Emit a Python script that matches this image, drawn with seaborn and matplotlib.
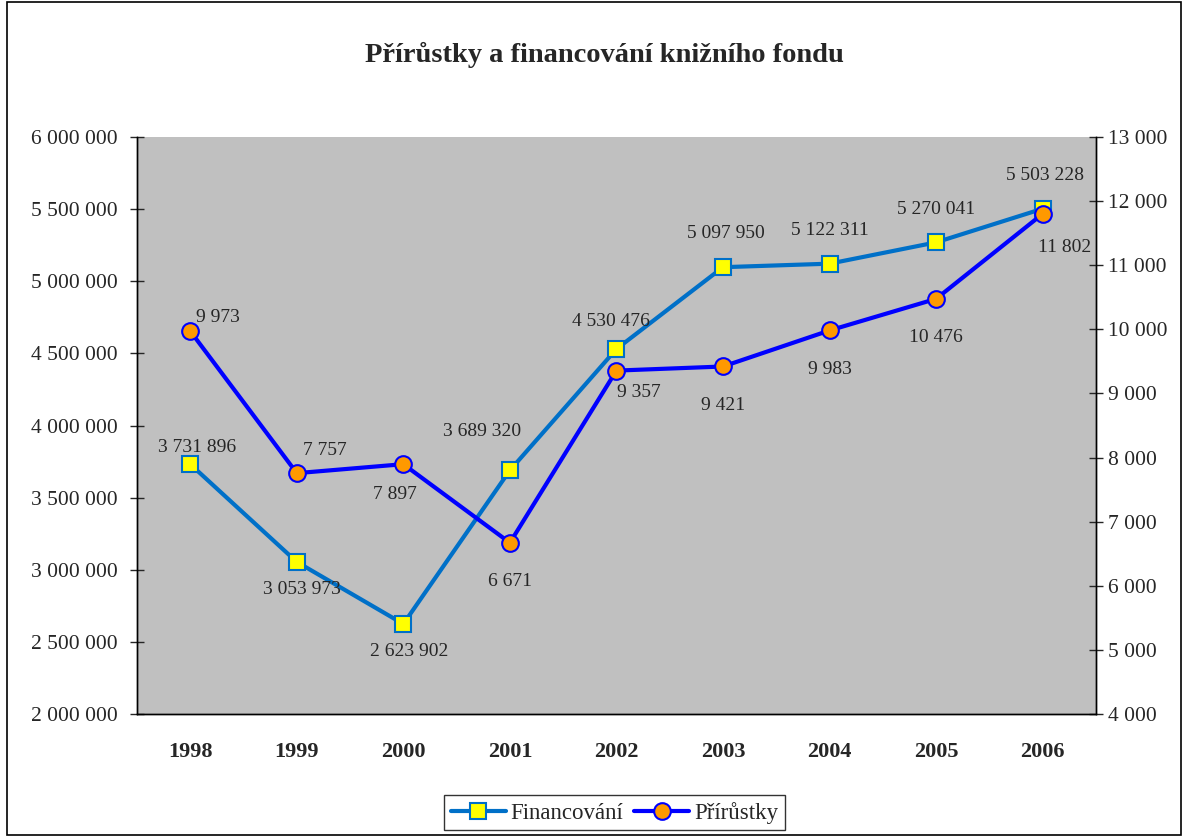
import matplotlib.pyplot as plt
import matplotlib.patches as mpatches
from matplotlib.ticker import FuncFormatter, MultipleLocator
import seaborn as sns
import pandas as pd

years = ["1998", "1999", "2000", "2001", "2002", "2003", "2004", "2005", "2006"]
financovani = [3731896, 3053973, 2623902, 3689320, 4530476, 5097950, 5122311, 5270041, 5503228]
prirustky = [9973, 7757, 7897, 6671, 9357, 9421, 9983, 10476, 11802]

# label offsets in points (dx, dy) for each series
fin_offsets = [(5, 12), (4, -20), (4, -20), (-20, 28), (-4, 20), (2, 24), (0, 24), (0, 24), (2, 24)]
pri_offsets = [(20, 10), (20, 16), (-6, -22), (0, -28), (16, -16), (0, -28), (0, -28), (0, -28), (16, -24)]

df = pd.DataFrame({"Rok": years, "Financování": financovani, "Přírůstky": prirustky})

sns.set_style("white")
plt.rcParams["font.family"] = ["Liberation Serif", "DejaVu Serif"]

fig = plt.figure(figsize=(11.86, 8.36), dpi=100)
ax = fig.add_axes([0.1155, 0.146, 0.8085, 0.69])
ax.set_facecolor("#C0C0C0")
ax2 = ax.twinx()

sns.lineplot(data=df, x="Rok", y="Financování", ax=ax, color="#0070C8", linewidth=3,
             marker="s", markersize=11, markerfacecolor="#FFFF00", markeredgecolor="#0070C8",
             markeredgewidth=1.5, label="Financování", legend=False, sort=False)
sns.lineplot(data=df, x="Rok", y="Přírůstky", ax=ax2, color="#0000FF", linewidth=3,
             marker="o", markersize=12, markerfacecolor="#FF9900", markeredgecolor="#0000FF",
             markeredgewidth=1.5, label="Přírůstky", legend=False, sort=False)

sp = lambda v: f"{int(v):,}".replace(",", " ")
for i, v in enumerate(financovani):
    ax.annotate(sp(v), (i, v), xytext=fin_offsets[i], textcoords="offset points",
                ha="center", va="center", fontsize=14)
for i, v in enumerate(prirustky):
    ax2.annotate(sp(v), (i, v), xytext=pri_offsets[i], textcoords="offset points",
                 ha="center", va="center", fontsize=14)

ax.set_xlim(-0.5, 8.5)
ax.set_ylim(2000000, 6000000)
ax2.set_ylim(4000, 13000)
ax.yaxis.set_major_locator(MultipleLocator(500000))
ax2.yaxis.set_major_locator(MultipleLocator(1000))
ax.yaxis.set_major_formatter(FuncFormatter(lambda v, p: sp(v)))
ax2.yaxis.set_major_formatter(FuncFormatter(lambda v, p: sp(v)))

ax.set_xticks(range(len(years)))
ax.set_xticklabels(years, fontweight="bold", fontsize=16)
ax.set_xticks([i + 0.5 for i in range(-1, len(years))], minor=True)
ax.tick_params(axis="x", which="major", length=0, pad=20)
ax.tick_params(axis="x", which="minor", length=7, direction="in", width=1)
ax.tick_params(axis="y", length=10, direction="inout", width=1, labelsize=15.5, pad=9)
ax2.tick_params(axis="y", length=10, direction="inout", width=1, labelsize=15.5, pad=4)
ax.set_xlabel("")
ax.set_ylabel("")
ax2.set_ylabel("")

for a in (ax, ax2):
    for s in a.spines.values():
        s.set_color("black")
        s.set_linewidth(1)
    a.spines["top"].set_visible(False)

fig.suptitle("Přírůstky a financování knižního fondu", x=0.51, y=0.95, fontsize=20.5, fontweight="bold")

h1, l1 = ax.get_legend_handles_labels()
h2, l2 = ax2.get_legend_handles_labels()
leg = fig.legend(h1 + h2, l1 + l2, loc="center", bbox_to_anchor=(0.518, 0.028), ncol=2,
                 fontsize=16.5, frameon=True, fancybox=False, edgecolor="black",
                 handlelength=2.4, columnspacing=0.5, handletextpad=0.2, borderpad=0.3)
leg.get_frame().set_linewidth(1)

fig.patches.append(mpatches.Rectangle((0.006, 0.001), 0.99, 0.997, transform=fig.transFigure,
                                      fill=False, edgecolor="black", linewidth=1.2))

fig.savefig("out.png", dpi=100)
